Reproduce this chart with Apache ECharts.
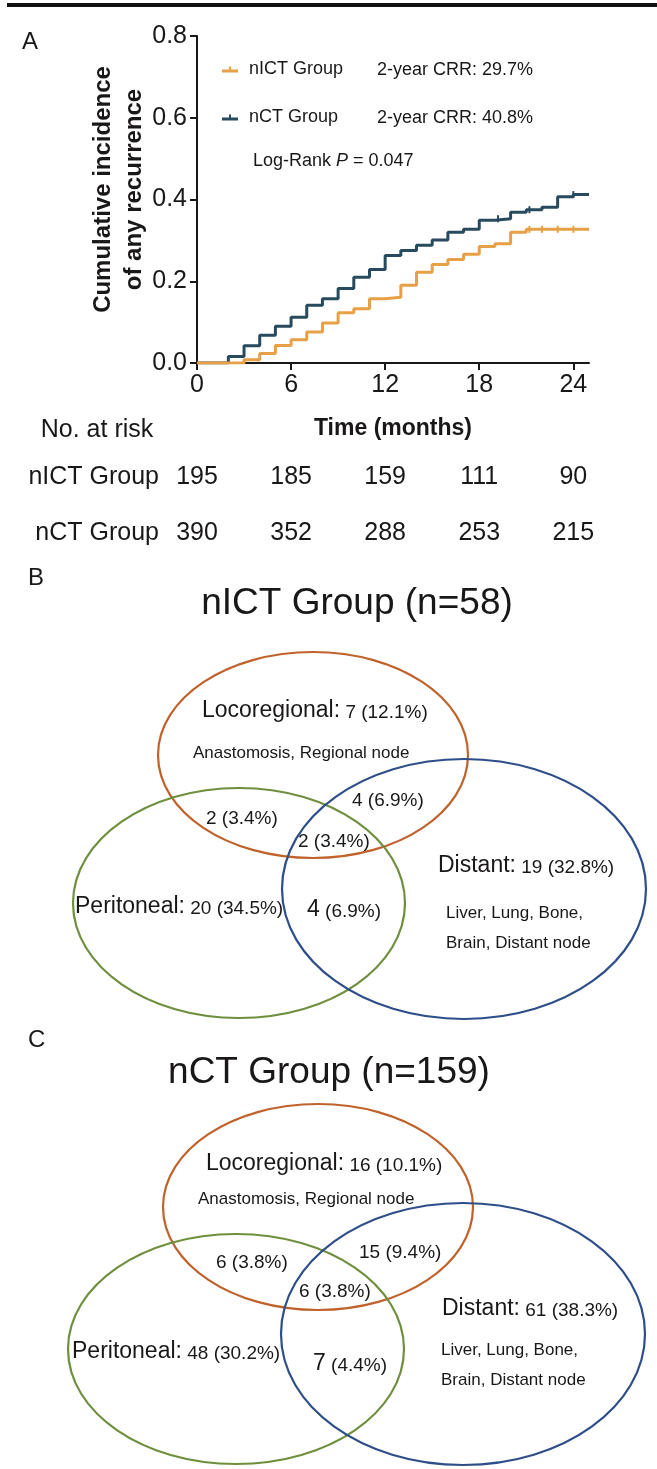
<!DOCTYPE html>
<html><head><meta charset="utf-8">
<script src="https://cdn.jsdelivr.net/npm/echarts@6/dist/echarts.min.js"></script>
<style>html,body{margin:0;padding:0;background:#fff}#c{width:657px;height:1469px}</style>
</head><body><div id="c"></div>
<script>
// ---------- data ----------
const xTicks = [0, 6, 12, 18, 24];
const monthsNICT = [0, 3, 4, 5, 6, 7, 8, 9, 10, 11, 12, 13, 14, 15, 16, 17, 18, 19, 20, 21, 25];
const cumNICT = [0, 0.008, 0.023, 0.043, 0.057, 0.076, 0.098, 0.123, 0.133, 0.157, 0.161, 0.190, 0.222, 0.241, 0.253, 0.266, 0.285, 0.292, 0.320, 0.327, 0.327];
const monthsNCT = [0, 2, 3, 4, 5, 6, 7, 8, 9, 10, 11, 12, 13, 14, 15, 16, 17, 18, 19, 20, 21, 22, 23, 24, 25];
const cumNCT = [0, 0.016, 0.042, 0.068, 0.090, 0.112, 0.141, 0.157, 0.182, 0.210, 0.229, 0.263, 0.275, 0.288, 0.301, 0.320, 0.327, 0.349, 0.353, 0.369, 0.375, 0.381, 0.407, 0.412, 0.412];
const censorNICTMonths = [21.2, 22, 23, 24];
const censorNCTMonths = [19.2, 21.2, 24];
const groups = ['nICT Group', 'nCT Group'];
const crr = ['29.7%', '40.8%'];
const logRankP = '0.047';
const riskMonths = [0, 6, 12, 18, 24];
const riskNICT = [195, 185, 159, 111, 90];
const riskNCT = [390, 352, 288, 253, 215];
// Venn: locoregional, peritoneal, distant, loco∩peri, loco∩dist, peri∩dist, all three
const vennNICTn = 58;
const vennNICTCounts = [7, 20, 19, 2, 4, 4, 2];
const vennNICTPct = ['12.1%', '34.5%', '32.8%', '3.4%', '6.9%', '6.9%', '3.4%'];
const vennNCTn = 159;
const vennNCTCounts = [16, 48, 61, 6, 15, 7, 6];
const vennNCTPct = ['10.1%', '30.2%', '38.3%', '3.8%', '9.4%', '4.4%', '3.8%'];

// ---------- style ----------
const FONT = "'Liberation Sans', Arial, Helvetica, sans-serif";
const INK = '#1a1718';
const ORANGE = '#E8A046';
const NAVY = '#284A5F';
const V_OR = '#C0622B', V_GR = '#6E8F3D', V_BL = '#2E4E8A';

function stepAt(months, cum, m) {
  let v = 0;
  for (let i = 0; i < months.length; i++) if (months[i] <= m) v = cum[i];
  return v;
}

function txt(x, y, text, size, extra) {
  return {
    type: 'text', x: x, y: y, z: 10,
    style: Object.assign({
      text: text, fontSize: size, fontFamily: FONT, fill: INK,
      align: 'left', verticalAlign: 'middle', textAlign: 'left', textVerticalAlign: 'middle'
    }, extra || {})
  };
}
function rich(x, y, text) {
  const base = {fontFamily: FONT, fill: INK, verticalAlign: 'bottom'};
  return txt(x, y, text, 19, {
    rich: {
      big: Object.assign({fontSize: 23, lineHeight: 24}, base),
      sm: Object.assign({fontSize: 19, lineHeight: 24}, base)
    }
  });
}
function ell(cx, cy, rx, ry, color) {
  return {type: 'ellipse', shape: {cx: cx, cy: cy, rx: rx, ry: ry}, z: 5,
    style: {fill: 'none', stroke: color, lineWidth: 2.2}};
}
function venn(title, titleCx, titleY, counts, pct, g) {
  const lab = (i) => counts[i] + ' (' + pct[i] + ')';
  return [
    txt(titleCx, titleY, title, 37, {align: 'center', textAlign: 'center'}),
    ell(g.o[0], g.o[1], g.o[2], g.o[3], V_OR),
    ell(g.g[0], g.g[1], g.g[2], g.g[3], V_GR),
    ell(g.b[0], g.b[1], g.b[2], g.b[3], V_BL),
    rich(g.t.loco[0], g.t.loco[1], '{big|Locoregional:} {sm|' + lab(0) + '}'),
    txt(g.t.anast[0], g.t.anast[1], 'Anastomosis, Regional node', 17),
    rich(g.t.dist[0], g.t.dist[1], '{big|Distant:} {sm|' + lab(2) + '}'),
    txt(g.t.liver[0], g.t.liver[1], 'Liver, Lung, Bone,', 17),
    txt(g.t.brain[0], g.t.brain[1], 'Brain, Distant node', 17),
    rich(g.t.peri[0], g.t.peri[1], '{big|Peritoneal:} {sm|' + lab(1) + '}'),
    txt(g.t.lp[0], g.t.lp[1], lab(3), 19),
    txt(g.t.ld[0], g.t.ld[1], lab(4), 19),
    rich(g.t.pd[0], g.t.pd[1], '{big|' + counts[5] + '} {sm|(' + pct[5] + ')}'),
    txt(g.t.lpd[0], g.t.lpd[1], lab(6), 19)
  ];
}

const geoB = {
  o: [313, 755, 155, 103], g: [239, 903, 166, 115], b: [464, 889, 182, 130],
  t: {loco: [202, 710], anast: [193, 753], lp: [206, 819], ld: [352, 801], lpd: [298, 842],
      dist: [438, 865], peri: [75, 906], pd: [307, 909], liver: [446, 913], brain: [446, 943]}
};
const geoC = {
  o: [318, 1207, 155, 103], g: [236, 1349, 168, 115], b: [463, 1334, 182, 131],
  t: {loco: [206, 1163], anast: [198, 1199], lp: [216, 1263], ld: [359, 1253], lpd: [299, 1292],
      dist: [442, 1308], peri: [72, 1351], pd: [313, 1363], liver: [441, 1350], brain: [441, 1380]}
};

const graphics = [
  {type: 'rect', shape: {x: 7, y: 3, width: 650, height: 4}, style: {fill: '#111'}},
  txt(22, 42, 'A', 24),
  txt(28, 578, 'B', 24),
  txt(28, 1040, 'C', 24),
  txt(377, 70, '2-year CRR: ' + crr[0], 18),
  txt(377, 118, '2-year CRR: ' + crr[1], 18),
  txt(253, 161, '{n|Log-Rank }{i|P}{n| = ' + logRankP + '}', 18, {
    rich: {n: {fontSize: 18, fontFamily: FONT, fill: INK}, i: {fontSize: 18, fontFamily: FONT, fill: INK, fontStyle: 'italic'}}
  }),
  txt(97, 430, 'No. at risk', 25, {align: 'center', textAlign: 'center'})
].concat(
  venn('nICT Group (n=' + vennNICTn + ')', 357, 604, vennNICTCounts, vennNICTPct, geoB),
  venn('nCT Group (n=' + vennNCTn + ')', 329, 1073, vennNCTCounts, vennNCTPct, geoC)
);

const riskData = [];
riskMonths.forEach((m, i) => {
  riskData.push([m, 0, riskNICT[i]]);
  riskData.push([m, 1, riskNCT[i]]);
});

const axisCol = {color: INK, width: 2};
const option = {
  animation: false,
  backgroundColor: '#fff',
  textStyle: {fontFamily: FONT},
  grid: [
    {left: 197, top: 36, width: 392, height: 327, containLabel: false, outerBoundsMode: 'none'},
    {left: 197, top: 449, width: 392, height: 112, containLabel: false, outerBoundsMode: 'none'}
  ],
  legend: {
    data: groups, orient: 'vertical', left: 222, top: 59, padding: 0,
    itemWidth: 16, itemHeight: 6, itemGap: 27,
    icon: 'path://M0,3 L16,3 L16,6 L0,6 Z M7,0 L9,0 L9,3 L7,3 Z',
    textStyle: {fontSize: 18, color: INK, fontFamily: FONT, lineHeight: 21, padding: [0, 0, 0, 6]}
  },
  xAxis: [
    {
      gridIndex: 0, type: 'value', min: 0, max: 25, interval: 6,
      axisLine: {show: true, lineStyle: axisCol},
      axisTick: {show: true, length: 7, lineStyle: axisCol, customValues: xTicks},
      axisLabel: {customValues: xTicks, fontSize: 25, color: INK, margin: 10, fontFamily: FONT},
      splitLine: {show: false},
      name: 'Time (months)', nameLocation: 'middle', nameGap: 54, nameMoveOverlap: false,
      nameTextStyle: {fontSize: 23, fontWeight: 'bold', color: INK, fontFamily: FONT}
    },
    {gridIndex: 1, type: 'value', min: 0, max: 25, show: false}
  ],
  yAxis: [
    {
      gridIndex: 0, type: 'value', min: 0, max: 0.8, interval: 0.2,
      axisLine: {show: true, lineStyle: axisCol},
      axisTick: {show: true, length: 7, lineStyle: axisCol},
      axisLabel: {fontSize: 25, color: INK, margin: 10, fontFamily: FONT, formatter: v => v.toFixed(1)},
      splitLine: {show: false},
      name: 'Cumulative incidence\nof any recurrence', nameLocation: 'middle', nameGap: 47, nameRotate: 90,
      nameMoveOverlap: false,
      nameTextStyle: {fontSize: 24, fontWeight: 'bold', color: INK, lineHeight: 31, fontFamily: FONT, padding: [0, 0, 0, 20]}
    },
    {
      gridIndex: 1, type: 'category', data: groups, inverse: true,
      axisLine: {show: false}, axisTick: {show: false}, splitLine: {show: false},
      axisLabel: {fontSize: 25, color: INK, margin: 38, fontFamily: FONT}
    }
  ],
  series: [
    {
      name: 'nCT Group', type: 'line', step: 'end', symbol: 'none', z: 3,
      xAxisIndex: 0, yAxisIndex: 0, color: NAVY,
      lineStyle: {width: 3, color: NAVY}, itemStyle: {color: NAVY},
      data: monthsNCT.map((m, i) => [m, cumNCT[i]])
    },
    {
      name: 'nICT Group', type: 'line', step: 'end', symbol: 'none', z: 4,
      xAxisIndex: 0, yAxisIndex: 0, color: ORANGE,
      lineStyle: {width: 3, color: ORANGE}, itemStyle: {color: ORANGE},
      data: monthsNICT.map((m, i) => [m, cumNICT[i]])
    },
    {
      name: 'censor-nCT', type: 'scatter', symbol: 'rect', symbolSize: [2, 7], z: 5,
      xAxisIndex: 0, yAxisIndex: 0, itemStyle: {color: NAVY, opacity: 1}, silent: true,
      data: censorNCTMonths.map(m => [m, stepAt(monthsNCT, cumNCT, m)])
    },
    {
      name: 'censor-nICT', type: 'scatter', symbol: 'rect', symbolSize: [2, 7], z: 5,
      xAxisIndex: 0, yAxisIndex: 0, itemStyle: {color: ORANGE, opacity: 1}, silent: true,
      data: censorNICTMonths.map(m => [m, stepAt(monthsNICT, cumNICT, m)])
    },
    {
      name: 'risk', type: 'scatter', xAxisIndex: 1, yAxisIndex: 1, symbolSize: 1,
      itemStyle: {color: '#fff', opacity: 1}, silent: true,
      label: {show: true, position: 'inside', formatter: p => String(p.value[2]), fontSize: 25,
        color: INK, opacity: 1, textBorderWidth: 0, fontFamily: FONT},
      data: riskData
    }
  ],
  graphic: graphics
};

const chart = echarts.init(document.getElementById('c'), null, {renderer: 'canvas'});
chart.setOption(option);
</script>
</body></html>
